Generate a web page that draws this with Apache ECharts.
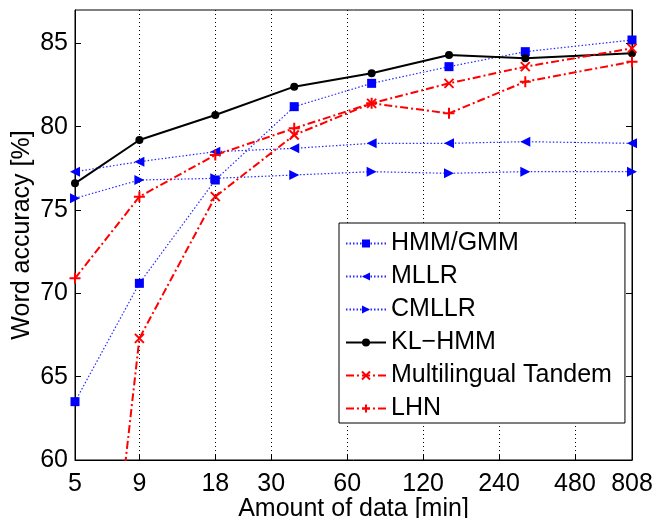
<!DOCTYPE html>
<html>
<head>
<meta charset="utf-8">
<script src="https://cdn.jsdelivr.net/npm/echarts@6/dist/echarts.min.js"></script>
<style>
  html, body { margin: 0; padding: 0; background: #fff; }
  #main { width: 655px; height: 518px; }
</style>
</head>
<body>
<div id="main"></div>
<script>
// amount of adaptation data (minutes) and word accuracy [%]
var minutes = [5, 9, 18, 37, 75, 152, 305, 808];
var xTicks = [5, 9, 18, 30, 60, 120, 240, 480, 808];
var yTicks = [60, 65, 70, 75, 80, 85];

var hmmGmm = [63.5, 70.6, 76.8, 81.2, 82.6, 83.6, 84.5, 85.2];
var mllr = [77.3, 77.9, 78.5, 78.7, 79.0, 79.0, 79.1, 79.0];
var cmllr = [75.7, 76.8, 76.9, 77.1, 77.3, 77.2, 77.3, 77.3];
var klHmm = [76.6, 79.2, 80.7, 82.4, 83.2, 84.3, 84.1, 84.4];
var tandem = [33.0, 67.3, 75.8, 79.5, 81.4, 82.6, 83.6, 84.7];
var lhn = [70.9, 75.8, 78.3, 79.9, 81.4, 80.8, 82.7, 83.9];

var font = "Liberation Sans";
var chart = echarts.init(document.getElementById("main"));

function pairs(vals) {
  return minutes.map(function (m, i) {
    return [m, vals[i]];
  });
}

var blueLine = { color: "#2828ff", width: 1.2, type: [1.5, 2] };
var redLine = { color: "#ff0000", width: 2, type: [8, 3, 2, 3] };

var option = {
  animation: false,
  textStyle: { fontFamily: font },
  grid: {
    left: 75,
    right: 23,
    top: 10,
    bottom: 58,
    outerBoundsMode: "none",
    containLabel: false,
    show: true,
    borderColor: "#000",
    borderWidth: 1
  },
  legend: {
    orient: "vertical",
    left: 339,
    top: 223,
    itemWidth: 40,
    itemHeight: 10,
    itemGap: 8,
    padding: [8, 13, 2, 6],
    borderColor: "#000",
    borderWidth: 1,
    backgroundColor: "#fff",
    textStyle: { fontSize: 25, color: "#000", fontFamily: font },
    data: ["HMM/GMM", "MLLR", "CMLLR", "KL\u2212HMM", "Multilingual Tandem", "LHN"]
  },
  xAxis: {
    type: "log",
    logBase: 10,
    min: 5,
    max: 808,
    name: "Amount of data [min]",
    nameLocation: "middle",
    nameGap: 37,
    nameMoveOverlap: false,
    nameTextStyle: { fontSize: 25, color: "#000", fontFamily: font },
    axisLine: { lineStyle: { color: "#000", width: 1 } },
    axisTick: { inside: true, length: 6, customValues: xTicks, lineStyle: { color: "#000" } },
    axisLabel: {
      customValues: xTicks,
      fontSize: 25,
      color: "#000",
      margin: 12,
      fontFamily: font
    },
    splitLine: { show: true, lineStyle: { color: "#000", type: [1, 3], width: 1 } },
    minorTick: { show: false },
    minorSplitLine: { show: false }
  },
  yAxis: [
    {
      type: "value",
      min: 60,
      max: 87,
      interval: 5,
      name: "Word accuracy [%]",
      nameLocation: "middle",
      nameGap: 40,
      nameMoveOverlap: false,
      nameTextStyle: { fontSize: 25, color: "#000", fontFamily: font },
      axisLine: { show: true, lineStyle: { color: "#000", width: 1 } },
      axisTick: { show: true, inside: true, length: 6, customValues: yTicks, lineStyle: { color: "#000" } },
      axisLabel: { customValues: yTicks, fontSize: 25, color: "#000", margin: 7, fontFamily: font },
      splitLine: { show: false }
    },
    {
      type: "value",
      position: "right",
      min: 60,
      max: 87,
      interval: 5,
      axisLine: { show: true, lineStyle: { color: "#000", width: 1 } },
      axisTick: { show: true, inside: true, length: 6, customValues: yTicks, lineStyle: { color: "#000" } },
      axisLabel: { show: false },
      splitLine: { show: false }
    }
  ],
  series: [
    {
      name: "HMM/GMM",
      type: "line",
      data: pairs(hmmGmm),
      symbol: "rect",
      symbolSize: 9,
      itemStyle: { color: "#0000ff" },
      lineStyle: blueLine
    },
    {
      name: "MLLR",
      type: "line",
      data: pairs(mllr),
      symbol: "triangle",
      symbolRotate: 90,
      symbolSize: 10,
      itemStyle: { color: "#0000ff" },
      lineStyle: blueLine
    },
    {
      name: "CMLLR",
      type: "line",
      data: pairs(cmllr),
      symbol: "triangle",
      symbolRotate: -90,
      symbolSize: 10,
      itemStyle: { color: "#0000ff" },
      lineStyle: blueLine
    },
    {
      name: "KL\u2212HMM",
      type: "line",
      data: pairs(klHmm),
      symbol: "circle",
      symbolSize: 8,
      itemStyle: { color: "#000" },
      lineStyle: { color: "#000", width: 2 }
    },
    {
      name: "Multilingual Tandem",
      type: "line",
      data: pairs(tandem),
      symbol: "path://M0,0L10,10M10,0L0,10",
      symbolSize: 9,
      itemStyle: { color: "transparent", borderColor: "#ff0000", borderWidth: 2 },
      lineStyle: redLine
    },
    {
      name: "LHN",
      type: "line",
      data: pairs(lhn),
      symbol: "path://M5,0L5,10M0,5L10,5",
      symbolSize: 11,
      itemStyle: { color: "transparent", borderColor: "#ff0000", borderWidth: 2 },
      lineStyle: redLine
    }
  ]
};

chart.setOption(option);
</script>
</body>
</html>
